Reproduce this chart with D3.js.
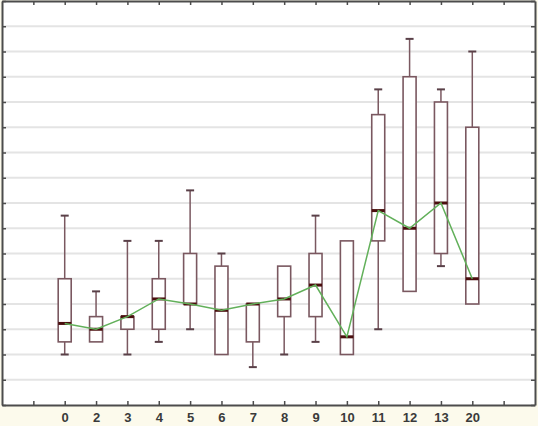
<!DOCTYPE html>
<html>
<head>
<meta charset="utf-8">
<script src="https://cdn.jsdelivr.net/npm/d3@7"></script>
<style>
  html, body { margin: 0; padding: 0; background: #fcfaec; }
  svg { display: block; }
</style>
</head>
<body>
<svg id="chart" width="538" height="426"></svg>
<script>
// ---- data (arbitrary y units, one gridline = 1) ----
const categories = ["0","2","3","4","5","6","7","8","9","10","11","12","13","20"];
const whiskerLow  = [2.0, 2.5, 2.0, 2.5, 3.0, 2.0, 1.5, 2.0, 2.5, 2.0, 3.0, 4.5, 5.5, 4.0];
const q1          = [2.5, 2.5, 3.0, 3.0, 4.0, 2.0, 2.5, 3.5, 3.5, 2.0, 6.5, 4.5, 6.0, 4.0];
const medians     = [3.23,3.0, 3.5, 4.2, 4.0, 3.75,4.0, 4.2, 4.75,2.7, 7.7, 7.0, 8.0, 5.0];
const q3          = [5.0, 3.5, 3.5, 5.0, 6.0, 5.5, 4.0, 5.5, 6.0, 6.5, 11.5,13.0,12.0,11.0];
const whiskerHigh = [7.5, 4.5, 6.5, 6.5, 8.5, 6.0, 4.0, 5.5, 7.5, 6.5, 12.5,14.5,12.5,14.0];
const yTicks = d3.range(0, 17, 1);

(function () {
const rows = categories.map((c, i) => ({
  c, lo: whiskerLow[i], q1: q1[i], med: medians[i], q3: q3[i], hi: whiskerHigh[i]
}));

const svg = d3.select("#chart");
const pL = 2, pR = 535, pT = 1, pB = 405;

// plot background
svg.append("rect").attr("x", pL).attr("y", pT)
  .attr("width", pR - pL).attr("height", pB - pT).attr("fill", "#ffffff");

const xDomain = ["_a", ...categories, "_b"];
const x = d3.scalePoint().domain(xDomain).range([pL, pR]).padding(1);
const y = d3.scaleLinear().domain([0, 16]).range([pB, pT]);

// gridlines
svg.append("g").selectAll("line").data(yTicks.filter(t => t > 0 && t < 16)).join("line")
  .attr("x1", pL).attr("x2", pR)
  .attr("y1", d => y(d)).attr("y2", d => y(d))
  .attr("stroke", "#e4e4e4").attr("stroke-width", 2);

// axes (frame with inward ticks)
const axisColor = "#4c4c4c";
function styleAxis(g) {
  g.selectAll("path").attr("stroke", axisColor).attr("stroke-width", 2);
  g.selectAll(".tick line").attr("stroke", axisColor).attr("stroke-width", 1.5);
}
const xb = svg.append("g").attr("transform", `translate(0,${pB})`)
  .call(d3.axisBottom(x).tickSize(-4).tickSizeOuter(0).tickFormat(d => d.startsWith("_") ? "" : d));
xb.call(styleAxis);
xb.selectAll(".tick text")
  .attr("y", 8).attr("dy", "0.71em")
  .attr("font-family", "Liberation Sans, Arial, sans-serif")
  .attr("font-size", 13).attr("font-weight", "bold").attr("fill", "#3a3a3a");

svg.append("g").attr("transform", `translate(0,${pT})`)
  .call(d3.axisTop(x).tickSize(-4).tickSizeOuter(0).tickFormat(""))
  .call(styleAxis);
svg.append("g").attr("transform", `translate(${pL},0)`)
  .call(d3.axisLeft(y).tickValues(yTicks).tickSize(-4).tickSizeOuter(0).tickFormat(""))
  .call(styleAxis);
svg.append("g").attr("transform", `translate(${pR},0)`)
  .call(d3.axisRight(y).tickValues(yTicks).tickSize(-4).tickSizeOuter(0).tickFormat(""))
  .call(styleAxis);

// boxes
const boxColor = "#7a5860";
const boxW = 13, capW = 8;
const g = svg.append("g");
const bx = g.selectAll("g.box").data(rows).join("g").attr("class", "box")
  .attr("transform", d => `translate(${x(d.c)},0)`);

// whiskers
bx.append("line").attr("x1", 0).attr("x2", 0)
  .attr("y1", d => y(d.hi)).attr("y2", d => y(d.q3))
  .attr("stroke", boxColor).attr("stroke-width", 1.5);
bx.append("line").attr("x1", 0).attr("x2", 0)
  .attr("y1", d => y(d.q1)).attr("y2", d => y(d.lo))
  .attr("stroke", boxColor).attr("stroke-width", 1.5);
// caps
bx.filter(d => d.hi > d.q3).append("line")
  .attr("x1", -capW / 2).attr("x2", capW / 2)
  .attr("y1", d => y(d.hi)).attr("y2", d => y(d.hi))
  .attr("stroke", "#5a4048").attr("stroke-width", 2);
bx.filter(d => d.lo < d.q1).append("line")
  .attr("x1", -capW / 2).attr("x2", capW / 2)
  .attr("y1", d => y(d.lo)).attr("y2", d => y(d.lo))
  .attr("stroke", "#5a4048").attr("stroke-width", 2);
// box
bx.append("rect")
  .attr("x", -boxW / 2).attr("width", boxW)
  .attr("y", d => y(d.q3)).attr("height", d => y(d.q1) - y(d.q3))
  .attr("fill", "#ffffff").attr("stroke", boxColor).attr("stroke-width", 1.6);

// median connecting line
const line = d3.line().x(d => x(d.c)).y(d => y(d.med));
svg.append("path").datum(rows).attr("d", line)
  .attr("fill", "none").attr("stroke", "#62b05a").attr("stroke-width", 1.5);

// median marks
bx.append("line")
  .attr("x1", -boxW / 2).attr("x2", boxW / 2)
  .attr("y1", d => y(d.med)).attr("y2", d => y(d.med))
  .attr("stroke", "#4a0e0e").attr("stroke-width", 3);
})();
</script>
</body>
</html>
